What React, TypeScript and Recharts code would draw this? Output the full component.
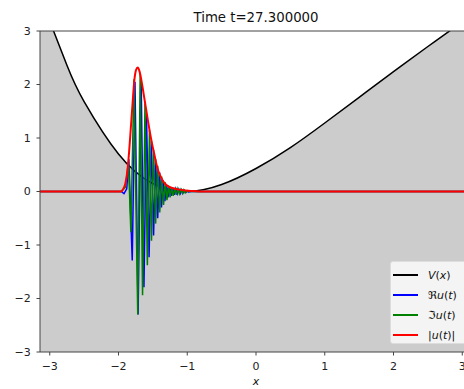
import { ComposedChart, Line, Area, XAxis, YAxis, ReferenceLine } from "recharts";

// potential V(x)
const vX = [-3.1416, -2.75, -2.5, -2.0, -1.5, -1.0, -0.5, 0.0, 0.5, 1.0, 1.5, 2.0, 2.5, 3.0, 3.1416];
const vY = [3.65, 2.36, 1.68, 0.7, 0.15, 0.0, 0.13, 0.43, 0.82, 1.28, 1.76, 2.24, 2.71, 3.17, 3.3];

// |u(t)|
const absX = [-3.1416, -1.96, -1.94, -1.9, -1.87, -1.845, -1.82, -1.795, -1.77, -1.745, -1.72, -1.695, -1.67, -1.65, -1.615, -1.58, -1.545, -1.51, -1.48, -1.45, -1.42, -1.39, -1.36, -1.32, -1.27, -1.2, -1.14, -1.06, -0.98, -0.9, -0.8, 3.1416];
const absY = [0, 0, 0.03, 0.15, 0.39, 0.75, 1.2, 1.65, 2.07, 2.27, 2.32, 2.25, 2.1, 1.95, 1.67, 1.39, 1.12, 0.88, 0.7, 0.52, 0.38, 0.29, 0.21, 0.14, 0.09, 0.06, 0.04, 0.025, 0.015, 0.008, 0, 0];

// Re u(t)
const reX = [-3.1416, -1.96, -1.92, -1.88, -1.85, -1.8, -1.76, -1.715, -1.67, -1.63, -1.592, -1.555, -1.522, -1.49, -1.46, -1.43, -1.402, -1.375, -1.35, -1.325, -1.302, -1.28, -1.257, -1.235, -1.212, -1.19, -1.167, -1.145, -1.122, -1.1, -1.08, -1.06, -1.04, -1.02, -1.0, -0.98, -0.95, 3.1416];
const reY = [0, 0, -0.04, 0.05, 0.6, -1.29, 2.05, -2.3, 2.05, -1.79, 1.45, -1.23, 0.95, -0.82, 0.6, -0.5, 0.36, -0.3, 0.21, -0.18, 0.13, -0.11, 0.09, -0.08, 0.065, -0.06, 0.05, -0.045, 0.04, -0.035, 0.03, -0.025, 0.02, -0.018, 0.012, -0.01, 0, 0];

// Im u(t)
const imX = [-3.1416, -1.96, -1.9, -1.855, -1.82, -1.775, -1.72, -1.685, -1.65, -1.615, -1.58, -1.55, -1.52, -1.49, -1.46, -1.43, -1.4, -1.372, -1.345, -1.32, -1.295, -1.272, -1.25, -1.227, -1.205, -1.182, -1.16, -1.137, -1.115, -1.092, -1.07, -1.05, -1.03, -1.0, -0.96, 3.1416];
const imY = [0, 0, 0.08, 0.55, -0.76, 2.1, -2.3, 2.2, -1.94, 1.65, -1.38, 1.15, -0.92, 0.78, -0.6, 0.48, -0.39, 0.28, -0.25, 0.17, -0.16, 0.11, -0.11, 0.08, -0.08, 0.06, -0.06, 0.05, -0.045, 0.04, -0.035, 0.03, -0.025, 0.01, 0, 0];

const ticks = [-3, -2, -1, 0, 1, 2, 3];

const zip = (xs: number[], ys: number[]) => xs.map((x, i) => ({ x, y: ys[i] }));

const vData = zip(vX, vY);
const absData = zip(absX, absY);
const reData = zip(reX, reY);
const imData = zip(imX, imY);

const fmt = (v: number) => (v < 0 ? "\u2212" + Math.abs(v) : String(v));

const FONT = "'DejaVu Sans', sans-serif";
const tickStyle = { fontSize: 11, fill: "#222", fontFamily: FONT };

const legendItems = [
  { color: "#000000", label: <><i>V</i>(<i>x</i>)</> },
  { color: "#0000ff", label: <>{"\u211C"}<i>u</i>(<i>t</i>)</> },
  { color: "#008000", label: <>{"\u2111"}<i>u</i>(<i>t</i>)</> },
  { color: "#ff0000", label: <>|<i>u</i>(<i>t</i>)|</> },
];

export default function App() {
  return (
    <div
      style={{
        position: "absolute",
        left: 0,
        top: 0,
        width: 464,
        height: 389,
        overflow: "hidden",
        background: "#fff",
        fontFamily: FONT,
      }}
    >
      <ComposedChart width={472} height={389} margin={{ top: 31, right: 0, bottom: 0, left: 0 }}>
        <XAxis
          dataKey="x"
          type="number"
          domain={[-3.1416, 3.1416]}
          ticks={ticks}
          tickFormatter={fmt}
          allowDataOverflow
          height={37}
          tickSize={3.5}
          tickMargin={6.5}
          tick={tickStyle}
          stroke="#444"
        />
        <YAxis
          type="number"
          domain={[-3, 3]}
          ticks={ticks}
          tickFormatter={fmt}
          allowDataOverflow
          width={40}
          tickSize={3.5}
          tickMargin={5.8}
          tick={tickStyle}
          stroke="#444"
        />
        <Area
          data={vData}
          dataKey="y"
          type="natural"
          baseValue={-3}
          fill="#cccccc"
          fillOpacity={1}
          stroke="none"
          isAnimationActive={false}
          dot={false}
          activeDot={false}
        />
        <Line data={vData} dataKey="y" type="natural" stroke="#000" strokeWidth={1.5} dot={false} activeDot={false} isAnimationActive={false} />
        <Line data={reData} dataKey="y" type="linear" stroke="#0000ff" strokeWidth={1.5} dot={false} activeDot={false} isAnimationActive={false} />
        <Line data={imData} dataKey="y" type="linear" stroke="#008000" strokeWidth={1.5} dot={false} activeDot={false} isAnimationActive={false} />
        <Line data={absData} dataKey="y" type="monotone" stroke="#ff0000" strokeWidth={2} dot={false} activeDot={false} isAnimationActive={false} />
        <ReferenceLine y={3} stroke="#444" strokeWidth={1} />
      </ComposedChart>

      <div
        style={{
          position: "absolute",
          left: 156,
          width: 200,
          top: 10,
          textAlign: "center",
          fontSize: 13.3,
          lineHeight: "16px",
          color: "#111",
        }}
      >
        Time t=27.300000
      </div>

      <div
        style={{
          position: "absolute",
          left: 250,
          width: 12,
          top: 375,
          textAlign: "center",
          fontSize: 11,
          lineHeight: "13px",
          fontStyle: "italic",
          color: "#111",
        }}
      >
        x
      </div>

      <div
        style={{
          position: "absolute",
          left: 390,
          top: 261,
          width: 84,
          height: 83,
          background: "rgba(245,245,245,0.95)",
          border: "1px solid #dddddd",
          borderRadius: 3,
          boxSizing: "border-box",
          paddingTop: 3,
        }}
      >
        {legendItems.map((it, i) => (
          <div key={i} style={{ display: "flex", alignItems: "center", height: 20, fontSize: 11, color: "#111" }}>
            <span style={{ display: "inline-block", width: 25, height: 2, background: it.color, marginLeft: 2, marginRight: 10 }} />
            <span>{it.label}</span>
          </div>
        ))}
      </div>
    </div>
  );
}
